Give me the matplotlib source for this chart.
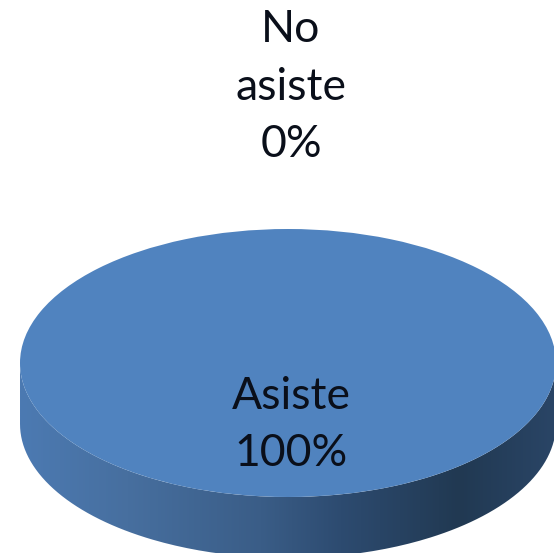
import numpy as np
import matplotlib
matplotlib.use("Agg")
import matplotlib.pyplot as plt
from matplotlib.patches import PathPatch
from matplotlib.path import Path
from matplotlib.colors import LinearSegmentedColormap

categories = ["Asiste", "No asiste"]
values = [100, 0]
label_lines = ["Asiste\n100%", "No\nasiste\n0%"]
top_colors = ["#5083bf", "#c0504d"]

W, H = 554, 553
CX, CY, A, B, DEPTH = 288, 363, 268, 134, 61

fig = plt.figure(figsize=(W / 100, H / 100), dpi=100, facecolor="white")
ax = fig.add_axes([0, 0, 1, 1])

# y data units are twice the pixel size, so a circular pie renders as the tilted ellipse
to_y = lambda py: (H - py) * A / B

# side wall with horizontal shading
t = np.linspace(np.pi, 2 * np.pi, 200)
xs = CX + A * np.cos(t)
upper = to_y(CY - B * np.sin(t))
lower = to_y(CY + DEPTH - B * np.sin(t))
verts = np.r_[np.c_[xs, lower], np.c_[xs[::-1], upper[::-1]], [[xs[0], lower[0]]]]
wall = PathPatch(Path(verts), fc="none", ec="none")
ax.add_patch(wall)
cmap = LinearSegmentedColormap.from_list(
    "wall",
    [(0, "#4c7ab2"), (0.2, "#476f9f"), (0.45, "#3a5d87"),
     (0.6, "#2d4b70"), (0.82, "#213952"), (1, "#2a4566")],
)
img = ax.imshow(np.linspace(0, 1, 256)[None, :], cmap=cmap, aspect="auto",
                extent=(CX - A, CX + A, to_y(H + 10), to_y(CY)), zorder=1)
img.set_clip_path(wall)

# top face
wedges, _ = ax.pie(values, colors=top_colors, center=(CX, to_y(CY)), radius=A,
                   startangle=90, counterclock=False,
                   wedgeprops=dict(linewidth=0, zorder=2))

ax.set_aspect("auto")
ax.set_xlim(0, W)
ax.set_ylim(0, to_y(0))
ax.axis("off")

font = dict(family="Lato", fontsize=32, color="#0a0f1a", ha="center", va="center",
            linespacing=1.5, zorder=3)
ax.text(291, to_y(425), label_lines[0], **font)
ax.text(291, to_y(87), label_lines[1], **font)

fig.savefig("out.png", dpi=100, facecolor="white")
